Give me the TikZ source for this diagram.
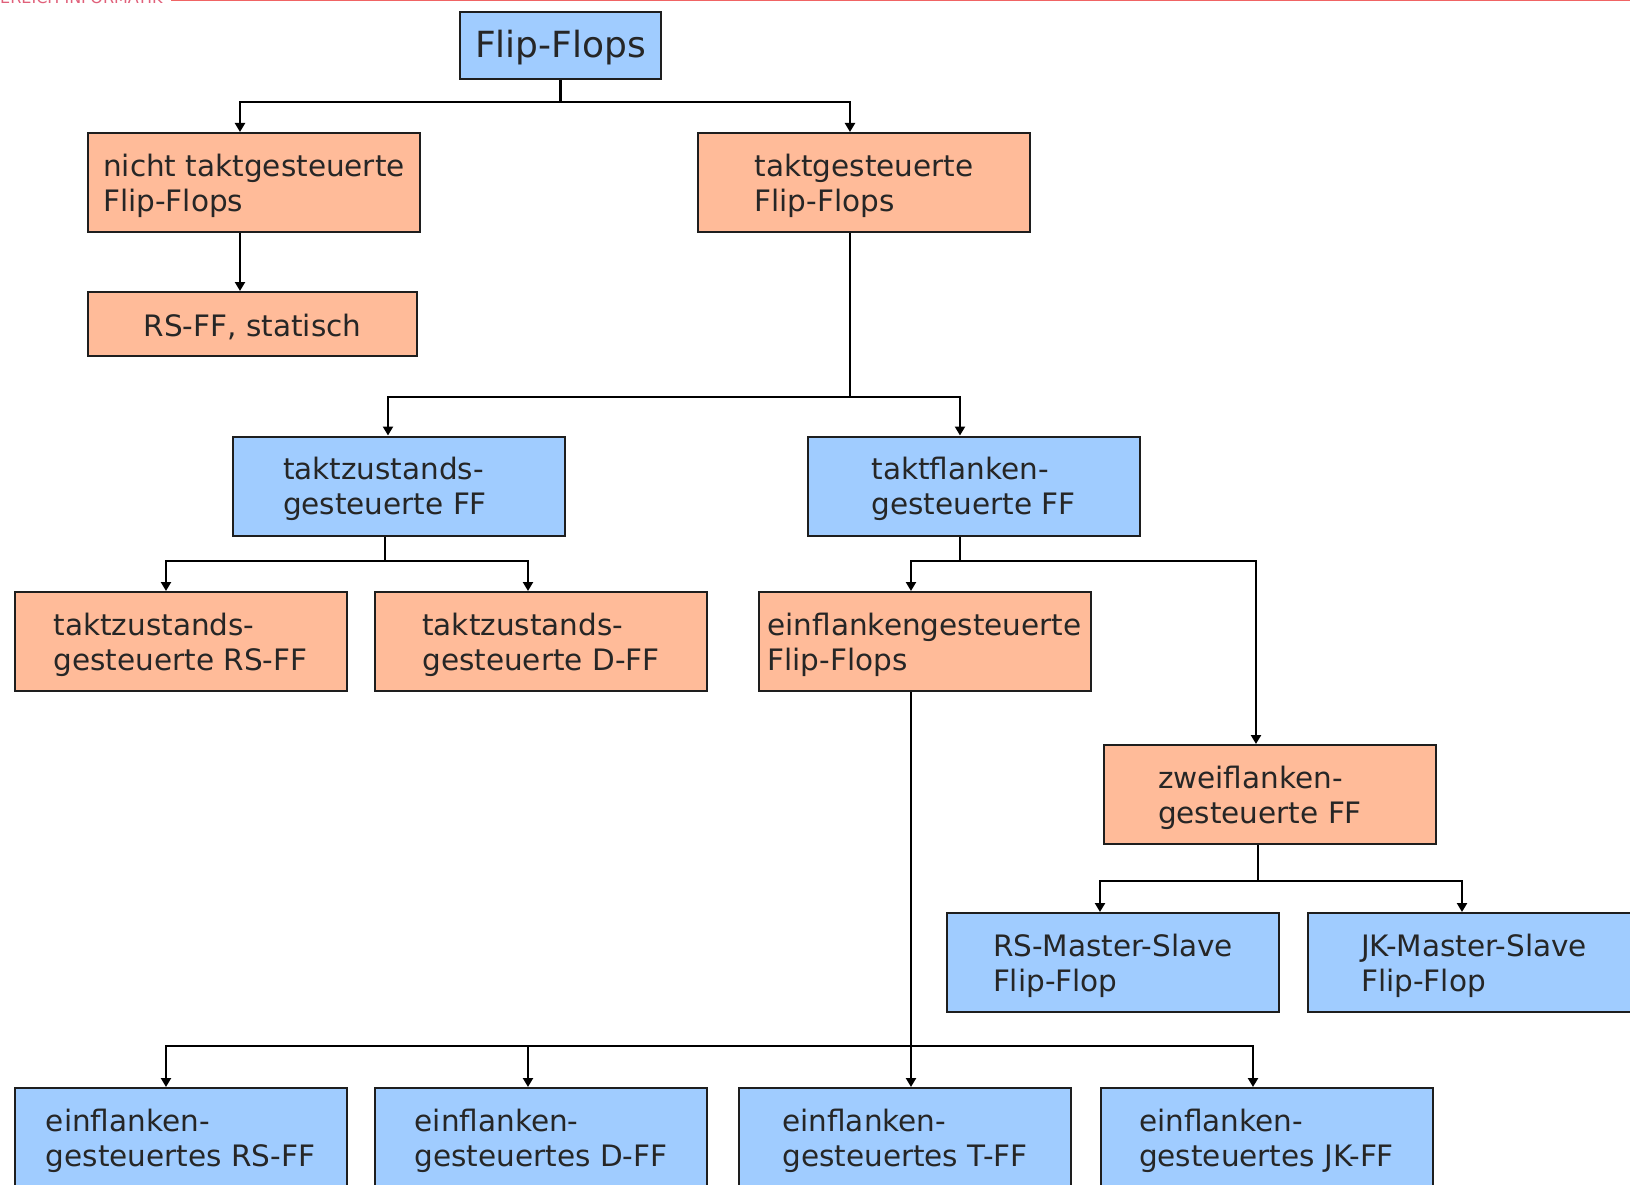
\documentclass[tikz,border=0pt]{standalone}
\usepackage{fontspec}
\setmainfont{DejaVu Sans}
\usetikzlibrary{arrows.meta,calc}
\definecolor{boxblue}{HTML}{A0CCFF}
\definecolor{boxorange}{HTML}{FFBB99}
\definecolor{boxline}{HTML}{1E1E1E}
\definecolor{txt}{HTML}{262626}
\definecolor{topred}{HTML}{F06464}
\definecolor{topredtxt}{HTML}{E0607A}
\begin{document}
\begin{tikzpicture}[x=1pt,y=-1pt,
  box/.style={draw=boxline,line width=2pt,rectangle,inner sep=0pt,
    minimum width=332pt,minimum height=99pt,align=left,text=txt,
    font=\fontsize{29.5}{35}\selectfont,text depth=0pt},
  bluebox/.style={box,fill=boxblue},
  orangebox/.style={box,fill=boxorange},
  ln/.style={draw=black,line width=2.2pt},
  arr/.style={ln,-{Triangle[length=9pt,width=10pt]}}
]
\useasboundingbox (0,0) rectangle (1630,1185);
% header strip (cut off)
\draw[topred,line width=2pt] (171,0) -- (1630,0);
\node[anchor=base west,inner sep=0pt,text=topredtxt,font=\fontsize{16}{16}\selectfont] (hdr) at (0,4) {EREICH INFORMATIK};

% nodes
\node[bluebox,minimum width=201pt,minimum height=67pt,font=\fontsize{36}{40}\selectfont,
  text depth=8.5pt,execute at begin node={\rule{0pt}{32pt}}] (ff) at (560.5,45.5) {Flip-Flops};
\node[orangebox] (nicht) at (254,182.5) {nicht taktgesteuerte\\Flip-Flops};
\node[orangebox] (takt) at (864,182.5) {taktgesteuerte\\Flip-Flops};
\node[orangebox,minimum width=329pt,minimum height=64pt,text depth=3.4pt,
  execute at begin node={\rule{0pt}{29pt}}] (rs) at (252.5,324) {RS-FF, statisch};
\node[bluebox] (tzff) at (398.5,486) {taktzustands-\hspace*{30pt}\\gesteuerte FF};
\node[bluebox] (tfff) at (973.5,486) {taktflanken-\\gesteuerte FF};
\node[orangebox] (tzrs) at (180.5,641.5) {taktzustands-\\gesteuerte RS-FF};
\node[orangebox] (tzd) at (541,641.5) {taktzustands-\\gesteuerte D-FF};
\node[orangebox] (einf) at (924.5,641.5) {einflankengesteuerte\\Flip-Flops};
\node[orangebox] (zwei) at (1270,794.5) {zweiflanken-\\gesteuerte FF\hspace*{20pt}};
\node[bluebox] (rsms) at (1113,962.5) {RS-Master-Slave\\Flip-Flop};
\node[bluebox] (jkms) at (1474,962.5) {JK-Master-Slave\\Flip-Flop};
\node[bluebox] (b1) at (180.5,1137.5) {einflanken-\\gesteuertes RS-FF};
\node[bluebox] (b2) at (541,1137.5) {einflanken-\\gesteuertes D-FF};
\node[bluebox] (b3) at (905,1137.5) {einflanken-\\gesteuertes T-FF};
\node[bluebox] (b4) at (1266.5,1137.5) {einflanken-\\gesteuertes JK-FF};

% junction coordinates
\coordinate (j1l) at (240,102);
\coordinate (j1r) at (850,102);
\coordinate (j2l) at (388,397);
\coordinate (j2r) at (960,397);
\coordinate (j3l) at (166,561);
\coordinate (j3r) at (528,561);
\coordinate (j3m) at (385,561);
\coordinate (j4l) at (911,561);
\coordinate (j4r) at (1256,561);
\coordinate (j5l) at (1100,881);
\coordinate (j5r) at (1462,881);
\coordinate (j5m) at (1258,881);
\coordinate (j6a) at (166,1046);
\coordinate (j6b) at (528,1046);
\coordinate (j6c) at (911,1046);
\coordinate (j6d) at (1253,1046);

% connectors
\draw[ln] (ff.south) -- (ff.south |- j1l);
\draw[arr] (j1l -| ff.south) -- (j1l) -- (nicht.north -| j1l);
\draw[arr] (j1l -| ff.south) -- (j1r) -- (takt.north -| j1r);
\draw[arr] (nicht.south -| j1l) -- (rs.north -| j1l);

\draw[ln] (takt.south -| j1r) -- (j2l -| j1r);
\draw[arr] (j2l -| j1r) -- (j2l) -- (tzff.north -| j2l);
\draw[arr] (j2l -| j1r) -- (j2r) -- (tfff.north -| j2r);

\draw[ln] (tzff.south -| j3m) -- (j3m);
\draw[arr] (j3m) -- (j3l) -- (tzrs.north -| j3l);
\draw[arr] (j3m) -- (j3r) -- (tzd.north -| j3r);

\draw[ln] (tfff.south -| j2r) -- (j4l -| j2r);
\draw[arr] (j4l -| j2r) -- (j4l) -- (einf.north -| j4l);
\draw[arr] (j4l -| j2r) -- (j4r) -- (zwei.north -| j4r);

\draw[ln] (zwei.south -| j5m) -- (j5m);
\draw[arr] (j5m) -- (j5l) -- (rsms.north -| j5l);
\draw[arr] (j5m) -- (j5r) -- (jkms.north -| j5r);

\draw[arr] (einf.south -| j6c) -- (b3.north -| j6c);
\draw[arr] (j6c) -- (j6a) -- (b1.north -| j6a);
\draw[arr] (j6a) -- (j6b) -- (b2.north -| j6b);
\draw[arr] (j6c) -- (j6d) -- (b4.north -| j6d);
\end{tikzpicture}
\end{document}
